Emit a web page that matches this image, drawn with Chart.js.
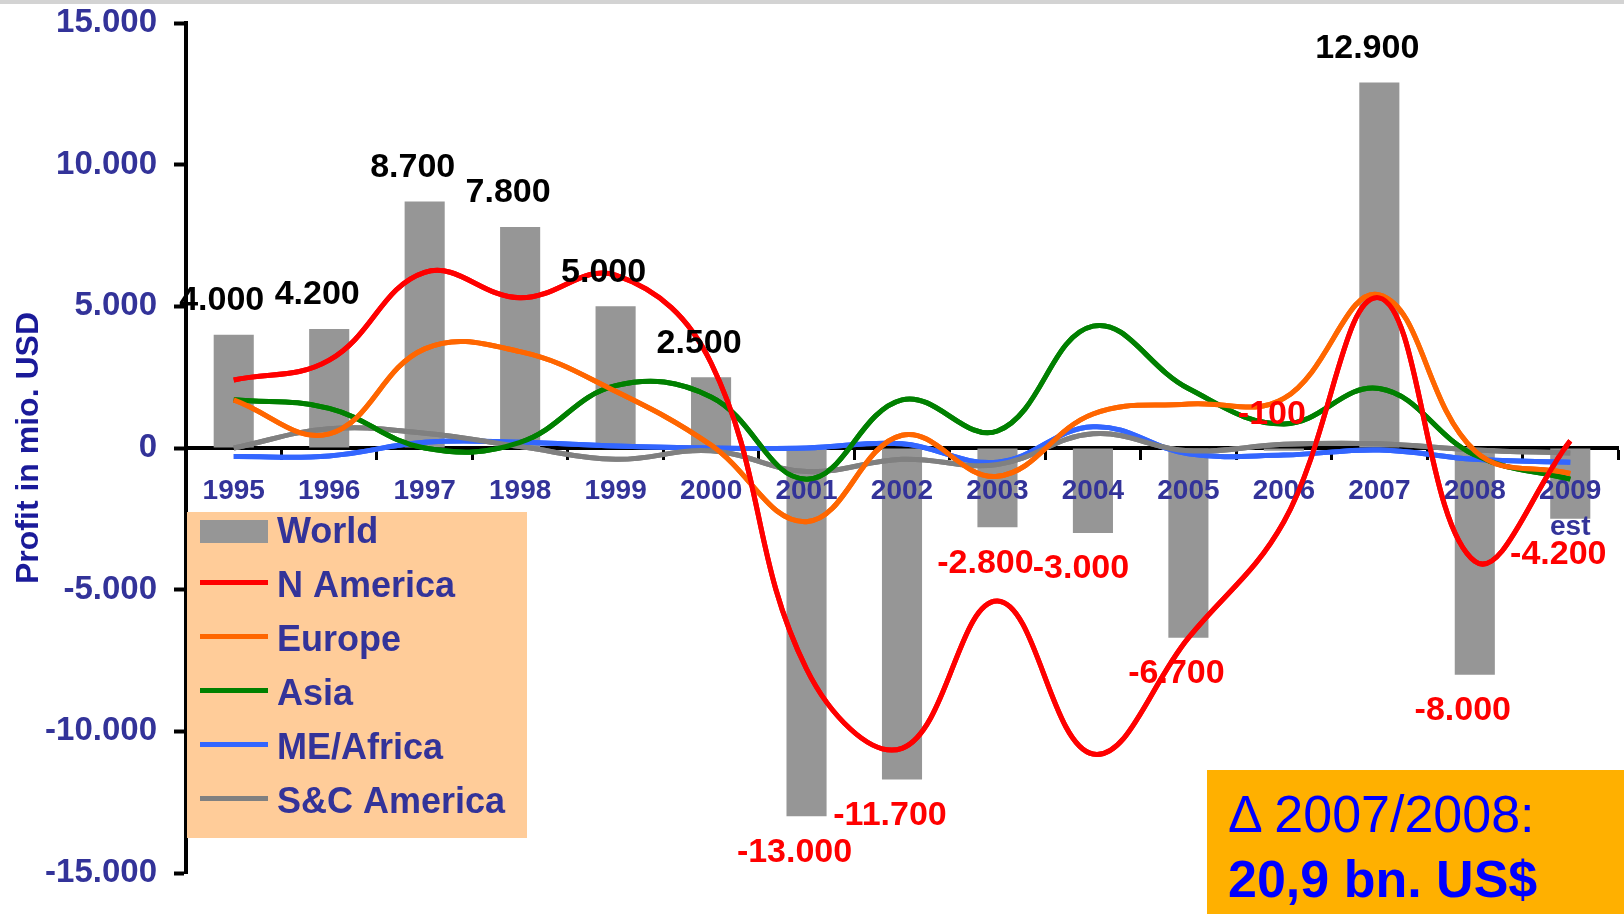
<!DOCTYPE html>
<html>
<head>
<meta charset="utf-8">
<script src="https://cdn.jsdelivr.net/npm/chart.js@4.4.1/dist/chart.umd.min.js"></script>
<style>
  body { margin: 0; background: #fff; }
  #wrap { position: relative; width: 1624px; height: 914px; overflow: hidden; }
  #topbar { position: absolute; left: 0; top: 0; width: 1624px; height: 4px; background: #d3d3d3; }
  #delta { position: absolute; left: 1207px; top: 770px; width: 417px; height: 144px; background: #ffb000;
           color: #0000ff; font-family: 'Liberation Sans', Arial, sans-serif; font-size: 52px; line-height: 52px; }
  #delta div { position: absolute; left: 21px; white-space: nowrap; }
</style>
</head>
<body>
<div id="wrap">
  <canvas id="chart" width="1624" height="914"></canvas>
  <div id="topbar"></div>
  <div id="delta">
    <div style="top: 18px;">&Delta; 2007/2008:</div>
    <div style="top: 83px; font-weight: bold;">20,9 bn. US$</div>
  </div>
</div>

<script>
    var years = ['1995', '1996', '1997', '1998', '1999', '2000', '2001', '2002', '2003', '2004', '2005', '2006', '2007', '2008', ['2009', 'est']];

    // world profit (bars) and the texts printed on them
    var world = [4000, 4200, 8700, 7800, 5000, 2500, -13000, -11700, -2800, -3000, -6700, -100, 12900, -8000, -2500];
    var worldLabels = ['4.000', '4.200', '8.700', '7.800', '5.000', '2.500', '-13.000', '-11.700', '-2.800', '-3.000', '-6.700', '-100', '12.900', '-8.000', '-4.200'];

    // regions (lines) at each year
    var nAmerica = [2400, 3100, 6200, 5300, 6100, 3000, -7800, -10600, -5400, -10800, -6700, -2600, 5300, -4000, 250];
    var europe = [1700, 500, 3500, 3400, 2000, 100, -2600, 450, -1000, 1200, 1550, 1750, 5400, -100, -900];
    var asia = [1700, 1400, 0, 200, 2200, 1800, -1100, 1700, 600, 4300, 2100, 850, 2100, -250, -1100];
    var meAfrica = [-300, -280, 200, 200, 70, 0, 0, 150, -500, 750, -200, -250, -70, -400, -500];
    var scAmerica = [0, 680, 520, 50, -400, -100, -830, -400, -580, 500, -100, 130, 150, -70, -180];

    var font = "'Liberation Sans', Arial, sans-serif";

    function dotted(v) {
        var s = Math.abs(v).toString().replace(/\B(?=(\d{3})+(?!\d))/g, '.');
        return (v < 0 ? '-' : '') + s;
    }

    function line(label, data, color, order) {
        return {
            type: 'line', label: label, data: data, borderColor: color, backgroundColor: color,
            borderWidth: 5, pointRadius: 0, tension: 0.4, fill: false, order: order,
            borderJoinStyle: 'round'
        };
    }

    // year labels sit above the bars but under the lines, so lines get drawn again,
    // then the bar values and the legend box
    var overlay = {
        id: 'overlay',
        afterDraw(chart) {
            var ctx = chart.ctx;
            var metas = chart.getSortedVisibleDatasetMetas();
            ctx.save();
            for (var i = metas.length - 1; i >= 0; i--) {
                if (metas[i].type === 'line') metas[i].controller.draw();
            }
            ctx.restore();

            ctx.save();
            ctx.font = 'bold 34px ' + font;
            ctx.textAlign = 'center';
            ctx.textBaseline = 'middle';
            chart.getDatasetMeta(0).data.forEach(function (bar, i) {
                var v = world[i];
                var y;
                if (v >= 0) y = bar.y - 34;
                else if (v > -1000) y = bar.base - 34;
                else y = bar.y + 36;
                ctx.fillStyle = v < 0 ? '#ff0000' : '#000000';
                ctx.fillText(worldLabels[i], bar.x - 12, y);
            });
            ctx.restore();

            ctx.save();
            ctx.fillStyle = '#ffcc99';
            ctx.fillRect(187, 512, 340, 326);
            ctx.font = 'bold 36px ' + font;
            ctx.textBaseline = 'alphabetic';
            chart.data.datasets.forEach(function (ds, i) {
                var base = 543 + i * 54;
                if (ds.type === 'bar') {
                    ctx.fillStyle = ds.backgroundColor;
                    ctx.fillRect(200, base - 23, 68, 23);
                } else {
                    ctx.fillStyle = ds.borderColor;
                    ctx.fillRect(200, base - 17, 68, 5);
                }
                ctx.fillStyle = '#333399';
                ctx.fillText(ds.label, 277, base);
            });
            ctx.restore();
        }
    };

    var chart = new Chart(document.getElementById('chart'), {
        type: 'bar',
        data: {
            labels: years,
            datasets: [
                { type: 'bar', label: 'World', data: world, backgroundColor: '#969696', order: 10,
                  barPercentage: 0.42, categoryPercentage: 1 },
                line('N America', nAmerica, '#ff0000', 1),
                line('Europe', europe, '#ff6600', 2),
                line('Asia', asia, '#008000', 3),
                line('ME/Africa', meAfrica, '#3366ff', 5),
                line('S&C America', scAmerica, '#808080', 4)
            ]
        },
        options: {
            responsive: false,
            animation: false,
            layout: { padding: { top: 23, bottom: 41, left: 0, right: 6 } },
            plugins: { legend: { display: false }, tooltip: { enabled: false } },
            scales: {
                x: {
                    position: { y: 0 },
                    grid: { offset: true, drawOnChartArea: false, tickLength: 10, tickWidth: 3, tickColor: '#000' },
                    border: { color: '#000', width: 4 },
                    ticks: {
                        z: 1, color: '#333399', padding: 15, maxRotation: 0, autoSkip: false,
                        font: { family: font, size: 28, weight: 'bold', lineHeight: 1.3 }
                    }
                },
                y: {
                    min: -15000, max: 15000,
                    grid: { drawOnChartArea: false, tickLength: 12, tickWidth: 4, tickColor: '#000' },
                    border: { color: '#000', width: 4 },
                    ticks: {
                        stepSize: 5000, callback: dotted, color: '#333399', padding: 17,
                        font: { family: font, size: 33, weight: 'bold' }
                    },
                    title: {
                        display: true, text: 'Profit in mio. USD', color: '#1a1a99',
                        font: { family: font, size: 32, weight: 'bold' }, padding: { top: 10, bottom: 0 }
                    },
                    afterFit(scale) {
                        scale.width = 186;
                        scale.paddingTop = 0;
                        scale.paddingBottom = 0;
                    }
                }
            }
        },
        plugins: [overlay]
    });
</script>
</body>
</html>
